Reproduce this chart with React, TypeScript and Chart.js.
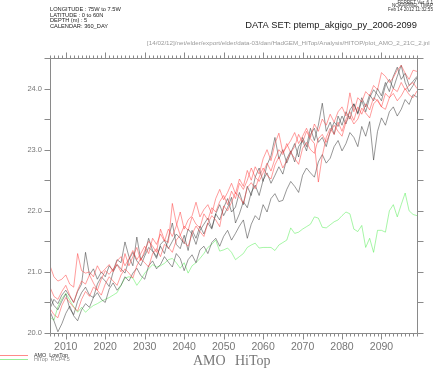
import { useEffect, useRef } from 'react';
import { Chart, registerables } from 'chart.js';

Chart.register(...registerables);

const years = [
  2006, 2007, 2008, 2009, 2010, 2011, 2012, 2013, 2014, 2015,
  2016, 2017, 2018, 2019, 2020, 2021, 2022, 2023, 2024, 2025,
  2026, 2027, 2028, 2029, 2030, 2031, 2032, 2033, 2034, 2035,
  2036, 2037, 2038, 2039, 2040, 2041, 2042, 2043, 2044, 2045,
  2046, 2047, 2048, 2049, 2050, 2051, 2052, 2053, 2054, 2055,
  2056, 2057, 2058, 2059, 2060, 2061, 2062, 2063, 2064, 2065,
  2066, 2067, 2068, 2069, 2070, 2071, 2072, 2073, 2074, 2075,
  2076, 2077, 2078, 2079, 2080, 2081, 2082, 2083, 2084, 2085,
  2086, 2087, 2088, 2089, 2090, 2091, 2092, 2093, 2094, 2095,
  2096, 2097, 2098, 2099,
];

const lowTopRed1 = [
  21.10, 20.92, 20.85, 20.88, 20.95, 20.80, 20.75, 21.30, 21.02, 20.98,
  21.00, 20.92, 21.10, 20.98, 21.05, 21.12, 21.00, 21.18, 21.25, 21.10,
  21.22, 21.35, 21.20, 21.30, 21.42, 21.30, 21.55, 21.45, 21.62, 21.50,
  21.70, 21.58, 21.75, 21.98, 21.70, 21.85, 21.92, 22.14, 21.90, 22.02,
  22.10, 21.95, 22.20, 22.35, 22.18, 22.30, 22.45, 22.28, 22.52, 22.40,
  22.66, 22.50, 22.72, 22.60, 22.85, 23.00, 22.82, 23.10, 23.27, 22.95,
  23.05, 23.15, 23.28, 23.10, 23.22, 23.35, 23.20, 23.42, 23.30, 23.50,
  23.40, 23.58, 23.45, 23.62, 23.70, 23.55, 23.93, 23.62, 23.85, 23.78,
  23.95, 23.88, 24.05, 23.98, 24.26, 24.20, 24.10, 24.18, 24.30, 24.38,
  24.25, 24.15, 24.30, 24.28,
];

const lowTopRed2 = [
  20.75, 20.60, 20.55, 20.68, 20.78, 20.62, 20.50, 20.70, 20.85, 20.80,
  20.95, 20.82, 20.70, 20.88, 21.02, 20.96, 21.05, 21.12, 21.00, 21.30,
  21.10, 21.25, 21.40, 21.18, 21.35, 21.50, 21.42, 21.32, 21.70, 21.52,
  21.48, 22.12, 21.80, 21.60, 21.75, 21.68, 21.90, 21.78, 21.72, 21.95,
  21.85, 22.05, 21.98, 22.15, 22.25, 22.10, 22.32, 22.20, 22.45, 22.35,
  22.50, 22.70, 22.55, 22.48, 22.62, 22.78, 22.65, 22.85, 23.00, 22.92,
  23.10, 22.95, 23.05, 23.25, 23.12, 23.30, 23.18, 23.10, 22.47, 22.90,
  23.20, 23.35, 23.25, 23.45, 23.30, 23.50, 23.62, 23.48, 23.70, 23.58,
  23.75, 23.65, 23.85, 23.80, 23.70, 23.92, 23.85, 24.00, 23.95, 24.10,
  23.98, 24.05, 24.10, 24.00,
];

const lowTopRed3 = [
  20.40, 20.30, 20.25, 20.45, 20.58, 20.50, 20.42, 20.36, 20.55, 20.68,
  20.60, 20.75, 20.70, 20.62, 20.80, 20.92, 20.85, 20.78, 20.95, 21.05,
  20.98, 20.90, 21.10, 21.22, 21.15, 21.08, 21.30, 21.38, 21.25, 21.45,
  21.40, 21.32, 21.52, 21.60, 21.48, 21.42, 21.62, 21.75, 21.66, 21.58,
  21.80, 21.92, 21.85, 21.74, 22.08, 22.00, 22.14, 22.30, 22.22, 22.12,
  22.38, 22.46, 22.36, 22.55, 22.70, 22.58, 22.52, 22.75, 22.88, 22.70,
  22.82, 22.95, 22.86, 22.76, 23.02, 23.12, 23.00, 22.94, 23.18, 23.25,
  23.12, 23.28, 23.40, 23.30, 23.22, 23.45, 23.55, 23.42, 23.50, 23.68,
  23.60, 23.52, 23.75, 23.82, 23.70, 23.66, 23.85, 23.92, 23.80, 23.88,
  24.00, 23.90, 23.85, 23.96,
];

const lowTopGray1 = [
  20.40, 20.55, 20.48, 20.62, 20.70, 20.60, 20.50, 20.68, 20.80, 21.32,
  20.95, 21.05, 20.88, 21.00, 20.92, 21.10, 21.02, 21.20, 21.15, 21.49,
  21.25, 21.10, 21.57, 21.20, 21.30, 21.55, 21.35, 21.25, 21.42, 21.30,
  21.55, 21.80, 21.45, 21.38, 21.60, 21.35, 21.68, 21.55, 21.75, 21.62,
  21.80, 21.70, 21.95, 21.85, 22.05, 22.20, 21.98, 22.06, 22.30, 22.10,
  22.40, 22.25, 22.55, 22.70, 22.48, 22.75, 22.90, 23.20, 22.85, 23.00,
  22.78, 22.95, 23.10, 22.88, 23.20, 23.05, 23.35, 23.15, 23.40, 23.76,
  23.30, 23.45, 23.25, 23.55, 23.40, 23.62, 23.50, 23.75, 23.60, 23.85,
  23.70, 23.90, 23.80, 24.00, 23.88, 24.10, 23.95, 24.20, 24.35, 24.15,
  24.25, 24.05, 24.12, 24.20,
];

const lowTopGray2 = [
  20.35, 20.20, 20.02, 20.15, 20.32, 20.44, 20.28, 20.20, 20.38, 20.48,
  20.42, 20.58, 20.66, 20.55, 20.50, 20.72, 20.82, 20.70, 20.78, 20.92,
  20.85, 20.98, 21.06, 20.94, 20.88, 21.10, 21.18, 21.05, 21.12, 21.25,
  21.16, 21.08, 21.30, 21.22, 21.02, 21.20, 21.28, 21.15, 21.36, 21.42,
  21.30, 21.48, 21.55, 21.42, 21.58, 21.68, 21.52, 21.63, 21.75, 21.85,
  21.55, 21.78, 21.92, 21.85, 22.10, 21.98, 22.20, 22.28, 22.15, 22.17,
  22.35, 22.48, 22.40, 22.30, 22.58, 22.70, 22.62, 22.55, 22.80, 22.92,
  22.78, 22.86, 23.05, 23.15, 22.98, 23.10, 23.28, 23.20, 23.05, 23.38,
  23.22, 23.46, 22.83, 23.30, 23.52, 23.40, 23.62, 23.70, 23.55, 23.66,
  23.82, 23.74, 23.90, 23.86,
];

const lowTopGray3 = [
  20.60, 20.45, 20.38, 20.52, 20.64, 20.40, 20.30, 20.52, 20.66, 20.75,
  20.62, 20.58, 20.80, 20.92, 20.85, 20.76, 21.00, 21.12, 21.05, 20.98,
  21.20, 21.32, 21.18, 21.10, 21.26, 21.40, 21.34, 21.22, 21.45, 21.52,
  21.38, 21.50, 21.62, 21.55, 21.46, 21.70, 21.62, 21.45, 21.68, 21.78,
  21.88, 21.72, 21.95, 22.10, 21.92, 22.05, 22.22, 21.80, 21.95, 22.15,
  22.05, 22.30, 22.42, 22.25, 22.50, 22.62, 22.45, 22.58, 22.72, 22.60,
  22.85, 22.98, 22.80, 23.05, 23.15, 22.98, 23.25, 23.35, 23.12, 23.20,
  23.05, 23.30, 23.45, 23.38, 23.55, 23.42, 23.65, 23.75, 23.58, 23.80,
  23.62, 23.85, 23.98, 23.90, 23.80, 24.05, 24.15, 24.00, 24.20, 24.38,
  24.10, 23.95, 24.05, 24.18,
];

const hiTopRcp45 = [
  20.26, 20.21, 20.43, 20.56, 20.65, 20.54, 20.43, 20.34, 20.42, 20.34,
  20.40, 20.45, 20.48, 20.52, 20.55, 20.58, 20.62, 20.66, 20.78, 20.90,
  20.92, 20.90, 20.78, 20.87, 20.98, 21.05, 21.12, 21.08, 21.10, 21.14,
  21.20, 21.22, 21.15, 21.06, 21.15, 20.98, 21.10, 21.15, 21.22, 21.30,
  21.40, 21.45, 21.52, 21.34, 21.36, 21.39, 21.32, 21.20, 21.25, 21.30,
  21.40, 21.44, 21.47, 21.39, 21.40, 21.40, 21.40, 21.35, 21.44, 21.48,
  21.52, 21.72, 21.63, 21.65, 21.70, 21.74, 21.78, 21.90, 21.88, 21.73,
  21.72, 21.77, 21.82, 21.85, 21.92, 21.98, 21.95, 21.70, 21.66, 21.76,
  21.40, 21.55, 21.32, 21.68, 21.68, 21.65, 22.00, 22.10, 21.90, 22.10,
  22.29, 22.00, 21.94, 21.92,
];

const xTickYears = [2010, 2020, 2030, 2040, 2050, 2060, 2070, 2080, 2090];
const yTickValues = [20, 21, 22, 23, 24];
const yMinorStep = 0.5;

const headerLeft = ['LONGITUDE : 75W to 7.5W', 'LATITUDE : 0 to 60N', 'DEPTH (m) : 5', 'CALENDAR: 360_DAY'];
const ferretInfo = ['FERRET Ver. 6.1', 'NOAA/PMEL TMAP', 'Feb 14 2012 11:32:55'];
const dataSetLabel = 'DATA SET: ptemp_akgigo_py_2006-2099';
const pathLabel = '[14/02/12]/net/elder/export/elder/data-03/dan/HadGEM_HiTop/Analysis/HITOP/plot_AMO_2_21C_2.jnl';
const titleWords = ['AMO', 'HiTop'];
const legendLabels = ['AMO  LowTop', 'HiTop  RCP4.5'];

const RED = 'rgba(255, 60, 60, 0.5)';
const GRAY = 'rgba(50, 50, 50, 0.5)';
const GREEN = 'rgba(60, 235, 60, 0.45)';
const LEGEND_RED = '#ff8a8a';
const LEGEND_GREEN = '#98ee98';
const AXIS = '#8a8a8a';
const SANS = '"Liberation Sans", Arial, sans-serif';
const SERIF = '"Liberation Serif", "Times New Roman", serif';

function fitSize(ctx: CanvasRenderingContext2D, text: string, width: number, family: string) {
  ctx.font = `10px ${family}`;
  const w = ctx.measureText(text).width;
  return (10 * width) / w;
}

function drawText(
  ctx: CanvasRenderingContext2D,
  text: string,
  x: number,
  y: number,
  size: number,
  family: string,
  color: string,
  align: CanvasTextAlign = 'left',
) {
  ctx.font = `${size}px ${family}`;
  ctx.fillStyle = color;
  ctx.textAlign = align;
  ctx.textBaseline = 'middle';
  ctx.fillText(text, x, y);
}

const framePlugin = {
  id: 'ferretFrame',
  afterDraw(chart: any) {
    const { ctx, chartArea, scales } = chart;
    const xs = scales.x;
    const ys = scales.y;
    const L = Math.round(chartArea.left) + 0.5;
    const R = Math.round(chartArea.right) + 0.5;
    const T = Math.round(chartArea.top) + 0.5;
    const B = Math.round(chartArea.bottom) + 0.5;
    ctx.save();
    ctx.strokeStyle = AXIS;
    ctx.lineWidth = 1;
    ctx.beginPath();
    ctx.rect(L, T, R - L, B - T);
    for (let yr = years[0]; yr <= years[years.length - 1]; yr++) {
      const px = Math.round(xs.getPixelForValue(yr)) + 0.5;
      const len = yr % 10 === 0 ? 6 : 3;
      ctx.moveTo(px, B);
      ctx.lineTo(px, B + len);
      ctx.moveTo(px, T);
      ctx.lineTo(px, T - len);
    }
    for (let v = ys.min; v <= ys.max + 1e-9; v += yMinorStep) {
      const py = Math.round(ys.getPixelForValue(v)) + 0.5;
      ctx.moveTo(L, py);
      ctx.lineTo(L - 6, py);
      ctx.moveTo(R, py);
      ctx.lineTo(R + 6, py);
    }
    ctx.stroke();

    const hs = fitSize(ctx, headerLeft[0], 71, SANS);
    const hy = [9.5, 15, 20.5, 26];
    headerLeft.forEach((t, i) => drawText(ctx, t, 50, hy[i], hs, SANS, '#222'));

    const fs = fitSize(ctx, ferretInfo[2], 45, SANS);
    const fy = [2.5, 6, 9.5];
    ferretInfo.forEach((t, i) => drawText(ctx, t, 433, fy[i], fs, SANS, '#333', 'right'));

    const ds = fitSize(ctx, dataSetLabel, 172, SANS);
    drawText(ctx, dataSetLabel, 417, 25, ds, SANS, '#222', 'right');

    const ps = fitSize(ctx, pathLabel, 283, SANS);
    drawText(ctx, pathLabel, 147, 43, ps, SANS, '#9a9a9a');

    drawText(ctx, titleWords[0], 193, 361, 14, SERIF, '#777');
    drawText(ctx, titleWords[1], 235, 361, 14, SERIF, '#777');

    ctx.lineWidth = 1;
    ctx.strokeStyle = LEGEND_RED;
    ctx.beginPath();
    ctx.moveTo(0, 355.5);
    ctx.lineTo(28, 355.5);
    ctx.stroke();
    ctx.strokeStyle = LEGEND_GREEN;
    ctx.beginPath();
    ctx.moveTo(0, 359.5);
    ctx.lineTo(28, 359.5);
    ctx.stroke();
    const ls = fitSize(ctx, legendLabels[0], 34, SANS);
    drawText(ctx, legendLabels[0], 34, 355, ls, SANS, '#333');
    drawText(ctx, legendLabels[1], 34, 359.5, ls, SANS, '#888');
    ctx.restore();
  },
};

function series(values: number[]) {
  return years.map((yr, i) => ({ x: yr, y: values[i] }));
}

export default function App() {
  const ref = useRef<HTMLCanvasElement | null>(null);

  useEffect(() => {
    if (!ref.current) return;
    const mk = (label: string, values: number[], color: string) => ({
      label,
      data: series(values),
      borderColor: color,
      backgroundColor: color,
      borderWidth: 1,
      pointRadius: 0,
      tension: 0,
      fill: false,
    });
    const chart = new Chart(ref.current, {
      type: 'line',
      data: {
        datasets: [
          mk('AMO LowTop 1', lowTopRed1, RED),
          mk('AMO LowTop 2', lowTopRed2, RED),
          mk('AMO LowTop 3', lowTopRed3, RED),
          mk('AMO LowTop 4', lowTopGray1, GRAY),
          mk('AMO LowTop 5', lowTopGray2, GRAY),
          mk('AMO LowTop 6', lowTopGray3, GRAY),
          mk('HiTop RCP4.5', hiTopRcp45, GREEN),
        ],
      },
      options: {
        animation: false,
        responsive: false,
        events: [],
        layout: { padding: { top: 58, right: 24, left: 0, bottom: 0 } },
        plugins: {
          legend: { display: false },
          tooltip: { enabled: false },
          title: { display: false },
        },
        scales: {
          x: {
            type: 'linear',
            position: 'bottom',
            min: years[0],
            max: years[years.length - 1],
            grid: { display: false, drawTicks: false },
            border: { display: false },
            afterBuildTicks: (s: any) => {
              s.ticks = xTickYears.map((v) => ({ value: v }));
            },
            afterFit: (s: any) => {
              s.height = 44;
            },
            ticks: {
              padding: 8,
              color: '#777',
              autoSkip: false,
              maxRotation: 0,
              font: { family: SANS, size: 10.5 },
              callback: (v: any) => String(v),
            },
          },
          y: {
            type: 'linear',
            position: 'left',
            min: 20,
            max: 24.5,
            grid: { display: false, drawTicks: false },
            border: { display: false },
            afterBuildTicks: (s: any) => {
              s.ticks = yTickValues.map((v) => ({ value: v }));
            },
            afterFit: (s: any) => {
              s.width = 50;
            },
            ticks: {
              padding: 8,
              color: '#777',
              font: { family: SANS, size: 7.5 },
              callback: (v: any) => Number(v).toFixed(1),
            },
          },
        },
      } as any,
      plugins: [framePlugin],
    });
    return () => chart.destroy();
  }, []);

  return (
    <div style={{ position: 'absolute', left: 0, top: 0, width: 441, height: 377, background: '#fff' }}>
      <canvas ref={ref} width={441} height={377} style={{ display: 'block', width: 441, height: 377 }} />
    </div>
  );
}
